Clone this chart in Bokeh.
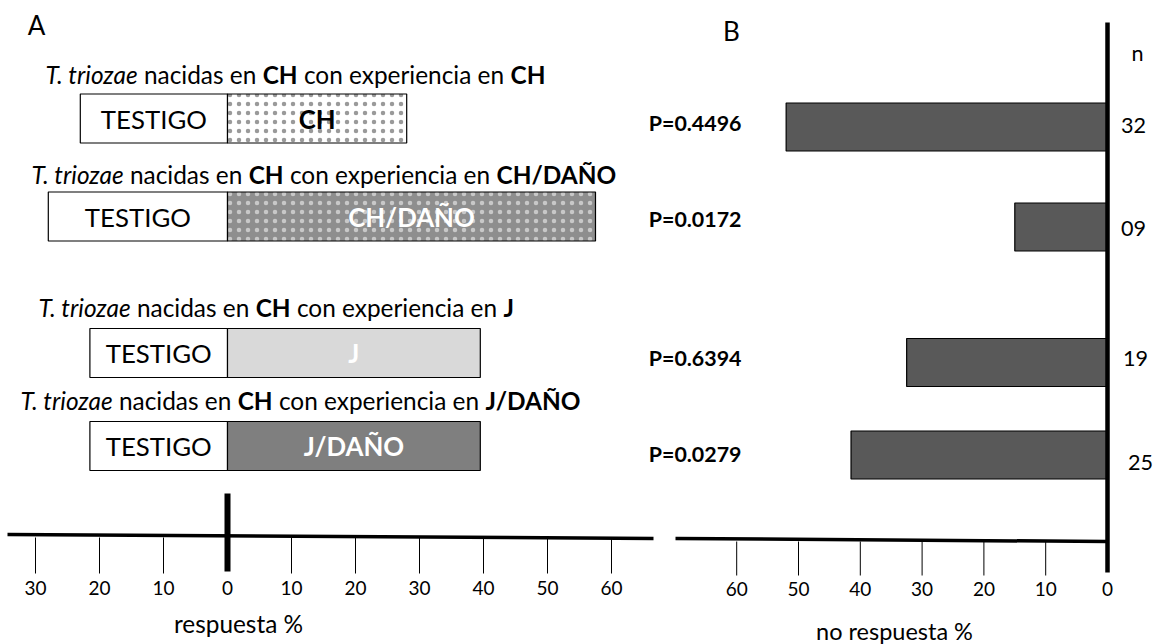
import glob
import os
import subprocess

from bokeh.core.properties import value
from bokeh.embed import file_html
from bokeh.models import ColumnDataSource, Range1d
from bokeh.plotting import figure
from bokeh.resources import INLINE

# ---------------- data ----------------
categorias = ["CH", "CH/DAÑO", "J", "J/DAÑO"]
testigo_pct = [23.0, 28.0, 21.5, 21.5]          # respuesta % hacia el testigo
tratamiento_pct = [28.0, 57.5, 39.5, 39.5]      # respuesta % hacia el tratamiento
no_respuesta_pct = [52.0, 15.0, 32.5, 41.5]     # no respuesta %
p_valores = ["P=0.4496", "P=0.0172", "P=0.6394", "P=0.0279"]
n_valores = ["32", "09", "19", "25"]
ticks_respuesta = [-30, -20, -10, 0, 10, 20, 30, 40, 50, 60]
ticks_no_respuesta = [60, 50, 40, 30, 20, 10, 0]

# ---------------- layout / style ----------------
FONT = "Lato"
W, H = 1157, 644
A_ZERO, A_PX = 227.0, 6.4        # page x of 0 and px per unit, panel A
B_ZERO, B_PX = 1107.0, 6.18      # panel B (reversed scale)


def ax(px):
    return (px - A_ZERO) / A_PX


def bx(px):
    return (B_ZERO - px) / B_PX


# ---------------- font measuring ----------------
def font_path(style):
    pat = {"normal": "Lato:style=Regular", "italic": "Lato:style=Italic",
           "bold": "Lato:style=Bold"}[style]
    try:
        r = subprocess.run(["fc-match", "-f", "%{file}", pat],
                           capture_output=True, text=True, timeout=5)
        p = r.stdout.strip()
        if p and os.path.exists(p) and "lato" in p.lower():
            return p
    except Exception:
        pass
    names = {"normal": "Lato-Regular", "italic": "Lato-Italic", "bold": "Lato-Bold"}
    for c in glob.glob("/usr/share/fonts/**/*.ttf", recursive=True):
        if os.path.basename(c).startswith(names[style]):
            return c
    return None


try:
    from PIL import ImageFont
    _FONTS = {}
    for _s in ("normal", "italic", "bold"):
        _p = font_path(_s)
        _FONTS[_s] = ImageFont.truetype(_p, 100) if _p else None
except Exception:
    _FONTS = {"normal": None, "italic": None, "bold": None}


def measure(text, style, size):
    f = _FONTS.get(style)
    if f is not None:
        return f.getlength(text) * size / 100.0
    return len(text) * (0.55 if style == "bold" else 0.5) * size


def fit(segs, target):
    w = sum(measure(t, s, 100) for t, s in segs)
    return target * 100.0 / w


# ---------------- figure ----------------
p = figure(width=W, height=H, x_range=Range1d(ax(0), ax(W)),
           y_range=Range1d(H, 0),
           extra_x_ranges={"b": Range1d(bx(0), bx(W))},
           output_backend="svg", toolbar_location=None,
           x_axis_type=None, y_axis_type=None, min_border=0,
           min_border_left=0, min_border_right=0, min_border_top=0,
           min_border_bottom=0)
p.outline_line_color = None
p.grid.visible = False
p.background_fill_color = "white"
p.border_fill_color = "white"

# ---------------- panel A ----------------
bar_y_a = [118, 216, 352.5, 445.5]
bar_h = 49
title_y = [74, 174, 307, 400]
title_x_px = [45, 31, 38, 20]

src_a = ColumnDataSource(dict(
    y=bar_y_a,
    t_left=[-v for v in testigo_pct],
    t_mid=[-v / 2 for v in testigo_pct],
    tr_right=tratamiento_pct,
    tr_mid=[v / 2 for v in tratamiento_pct],
    cat=categorias,
    fill=["white", "#8e8e8e", "#d9d9d9", "#7f7f7f"],
    hatch=[".", ".", " ", " "],
    hatch_color=["#9a9a9a", "#c8c8c8", "#ffffff", "#ffffff"],
    txt_color=["black", "white", "white", "white"],
    testigo=["TESTIGO"] * 4,
))

p.hbar(y="y", left="t_left", right=0, height=bar_h, source=src_a,
       fill_color="white", line_color="black", line_width=1.2)
p.hbar(y="y", left=0, right="tr_right", height=bar_h, source=src_a,
       fill_color="fill", line_color="black", line_width=1.2,
       hatch_pattern="hatch", hatch_color="hatch_color", hatch_scale=9,
       hatch_weight=0.35)

box_size = fit([("TESTIGO", "normal")], 106)
p.text(x="t_mid", y="y", text="testigo", source=src_a, text_font=value(FONT),
       text_font_size=f"{box_size:.1f}px", text_align="center",
       text_baseline="middle", text_color="black")
p.text(x="tr_mid", y="y", text="cat", source=src_a, text_font=value(FONT),
       text_font_style="bold", text_font_size=f"{box_size:.1f}px",
       text_align="center", text_baseline="middle", text_color="txt_color")

# titles with mixed styles (spaces kept only as offsets)
title_segs = []
for cat in categorias:
    title_segs.append([("T. triozae", "italic"), (" nacidas en ", "normal"),
                       ("CH", "bold"), (" con experiencia en ", "normal"),
                       (cat, "bold")])
t_size = fit(title_segs[0], 500)
seg_data = {s: dict(x=[], y=[], text=[], xo=[])
            for s in ("normal", "italic", "bold")}
for segs, ty, tx in zip(title_segs, title_y, title_x_px):
    off = 0.0
    for t, s in segs:
        lead = len(t) - len(t.lstrip(" "))
        d = seg_data[s]
        d["x"].append(ax(tx))
        d["y"].append(ty)
        d["text"].append(t.strip(" "))
        d["xo"].append(off + measure(" " * lead, s, t_size))
        off += measure(t, s, t_size)
for s, d in seg_data.items():
    p.text(x="x", y="y", text="text", x_offset="xo",
           source=ColumnDataSource(d), text_font=value(FONT),
           text_font_style=s, text_font_size=f"{t_size:.1f}px",
           text_align="left", text_baseline="middle", text_color="black")

# axis A
p.segment(x0=[ax(7)], y0=[534], x1=[ax(653)], y1=[538], line_color="black",
          line_width=3.5)
tick_a = [t for t in ticks_respuesta if t != 0]
p.segment(x0=tick_a, y0=[537] * len(tick_a), x1=tick_a,
          y1=[573] * len(tick_a), line_color="black", line_width=1)
p.segment(x0=[0], y0=[493], x1=[0], y1=[571], line_color="black",
          line_width=6)
tick_size = 19
p.text(x=ticks_respuesta, y=[587] * len(ticks_respuesta),
       text=[str(abs(t)) for t in ticks_respuesta], text_font=value(FONT),
       text_font_size=f"{tick_size}px", text_align="center",
       text_baseline="middle", text_color="black")
lab_size = fit([("respuesta %", "normal")], 129)
p.text(x=[ax(238)], y=[623], text=["respuesta %"], text_font=value(FONT),
       text_font_size=f"{lab_size:.1f}px", text_align="center",
       text_baseline="middle", text_color="black")
p.text(x=[ax(36)], y=[24], text=["A"], text_font=value(FONT),
       text_font_size="26px", text_align="center", text_baseline="middle",
       text_color="black")

# ---------------- panel B ----------------
bar_y_b = [126.5, 226.5, 362, 454.5]
p_y = [122, 218, 357, 453]
n_y = [125, 228, 358, 462]
n_x_px = [1133, 1133, 1135, 1140]

src_b = ColumnDataSource(dict(
    y=bar_y_b, left=no_respuesta_pct, py=p_y, p=p_valores,
    ny=n_y, nx=[bx(v) for v in n_x_px], n=n_valores,
))
p.hbar(y="y", left="left", right=0, height=48, source=src_b,
       fill_color="#595959", line_color="black", line_width=1.2,
       x_range_name="b")

p_size = fit([("P=0.4496", "bold")], 93)
p.text(x=bx(741), y="py", text="p", source=src_b, text_font=value(FONT),
       text_font_style="bold", text_font_size=f"{p_size:.1f}px",
       text_align="right", text_baseline="middle", text_color="black",
       x_range_name="b")
n_size = fit([("32", "normal")], 25)
p.text(x="nx", y="ny", text="n", source=src_b, text_font=value(FONT),
       text_font_size=f"{n_size:.1f}px", text_align="center",
       text_baseline="middle", text_color="black", x_range_name="b")
p.text(x=[bx(1137)], y=[52], text=["n"], text_font=value(FONT),
       text_font_size=f"{n_size:.1f}px", text_align="center",
       text_baseline="middle", text_color="black", x_range_name="b")
p.text(x=[bx(731)], y=[30], text=["B"], text_font=value(FONT),
       text_font_size="26px", text_align="center", text_baseline="middle",
       text_color="black", x_range_name="b")

# axes B
p.segment(x0=[bx(675)], y0=[538], x1=[0], y1=[541], line_color="black",
          line_width=3.5, x_range_name="b")
p.segment(x0=[0], y0=[22], x1=[0], y1=[572], line_color="black",
          line_width=4.5, x_range_name="b")
tick_b = [t for t in ticks_no_respuesta if t != 0]
p.segment(x0=tick_b, y0=[541] * len(tick_b), x1=tick_b,
          y1=[575] * len(tick_b), line_color="black", line_width=1,
          x_range_name="b")
p.text(x=ticks_no_respuesta, y=[588] * len(ticks_no_respuesta),
       text=[str(t) for t in ticks_no_respuesta], text_font=value(FONT),
       text_font_size=f"{tick_size}px", text_align="center",
       text_baseline="middle", text_color="black", x_range_name="b")
nolab_size = fit([("no respuesta  %", "normal")], 163)
p.text(x=[bx(897)], y=[630], text=["no respuesta  %"], text_font=value(FONT),
       text_font_size=f"{nolab_size:.1f}px", text_align="center",
       text_baseline="middle", text_color="black", x_range_name="b")

open("out.html", "w").write(file_html(p, INLINE))
